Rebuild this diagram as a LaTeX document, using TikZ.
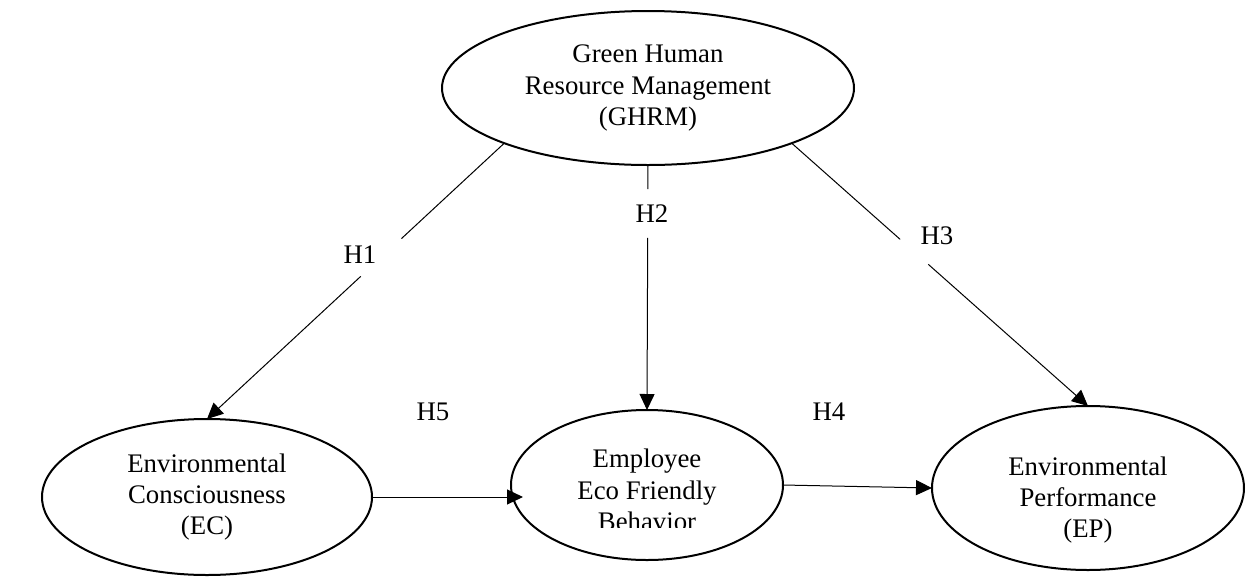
\documentclass[tikz,border=0pt]{standalone}
\usepackage{fontspec}
\setmainfont{Liberation Serif}
\usetikzlibrary{shapes.geometric,arrows.meta,calc}
\begin{document}
\begin{tikzpicture}[x=0.5pt,y=-0.5pt,
  construct/.style={draw, ellipse, line width=1pt, inner sep=0pt, outer sep=0pt, align=center, font=\fontsize{13.4}{15.6}\selectfont},
  plaintext/.style={inner sep=0pt, outer sep=0pt, align=center, font=\fontsize{13.4}{15.6}\selectfont},
  lbl/.style={inner sep=0pt, font=\fontsize{13.4}{15.6}\selectfont},
  link/.style={line width=0.5pt},
  arr/.style={link, -{Triangle[length=8pt,width=7.5pt]}}]
\useasboundingbox (0,0) rectangle (1255,580);

% constructs
\node[construct, minimum width=206pt, minimum height=77pt] (ghrm) at (648,88) {Green Human\\Resource Management\\(GHRM)};
\node[construct, minimum width=165pt, minimum height=78pt] (ec) at (207,497) {Environmental\\Consciousness\\(EC)};
\node[construct, minimum width=136pt, minimum height=75pt] (eefb) at (647,485) {};
\begin{scope}
  \clip (520,420) rectangle (780,527);
  \node[plaintext] (eefbtext) at (647,490) {Employee\\Eco Friendly\\Behavior};
\end{scope}
\node[construct, minimum width=156pt, minimum height=82pt] (ep) at (1088,488) {};
\node[plaintext] (eptext) at (1088,500) {Environmental\\Performance\\(EP)};

% gap points on the paths
\coordinate (h1a) at ($(ghrm.201)!0.346!(ec.north)$);
\coordinate (h1b) at ($(ghrm.201)!0.483!(ec.north)$);
\coordinate (h2a) at ($(ghrm.south)!0.098!(eefb.north)$);
\coordinate (h2b) at ($(ghrm.south)!0.297!(eefb.north)$);
\coordinate (h3a) at ($(ghrm.339)!0.366!(ep.north)$);
\coordinate (h3b) at ($(ghrm.339)!0.461!(ep.north)$);

% connectors
\draw[link] (ghrm.201) -- (h1a);
\draw[arr] (h1b) -- (ec.north);
\draw[link] (ghrm.south) -- (h2a);
\draw[arr] (h2b) -- (eefb.north);
\draw[link] (ghrm.339) -- (h3a);
\draw[arr] (h3b) -- (ep.north);
\draw[arr] (ec.east) -- ([xshift=6pt]ec.east -| eefb.west);
\draw[arr] (eefb.east) -- (ep.west);

% labels
\node[lbl] (lh1) at (360,255) {H1};
\node[lbl] (lh2) at (652,214) {H2};
\node[lbl] (lh3) at (937,236) {H3};
\node[lbl] (lh4) at (829,412) {H4};
\node[lbl] (lh5) at (433,412) {H5};
\end{tikzpicture}
\end{document}
